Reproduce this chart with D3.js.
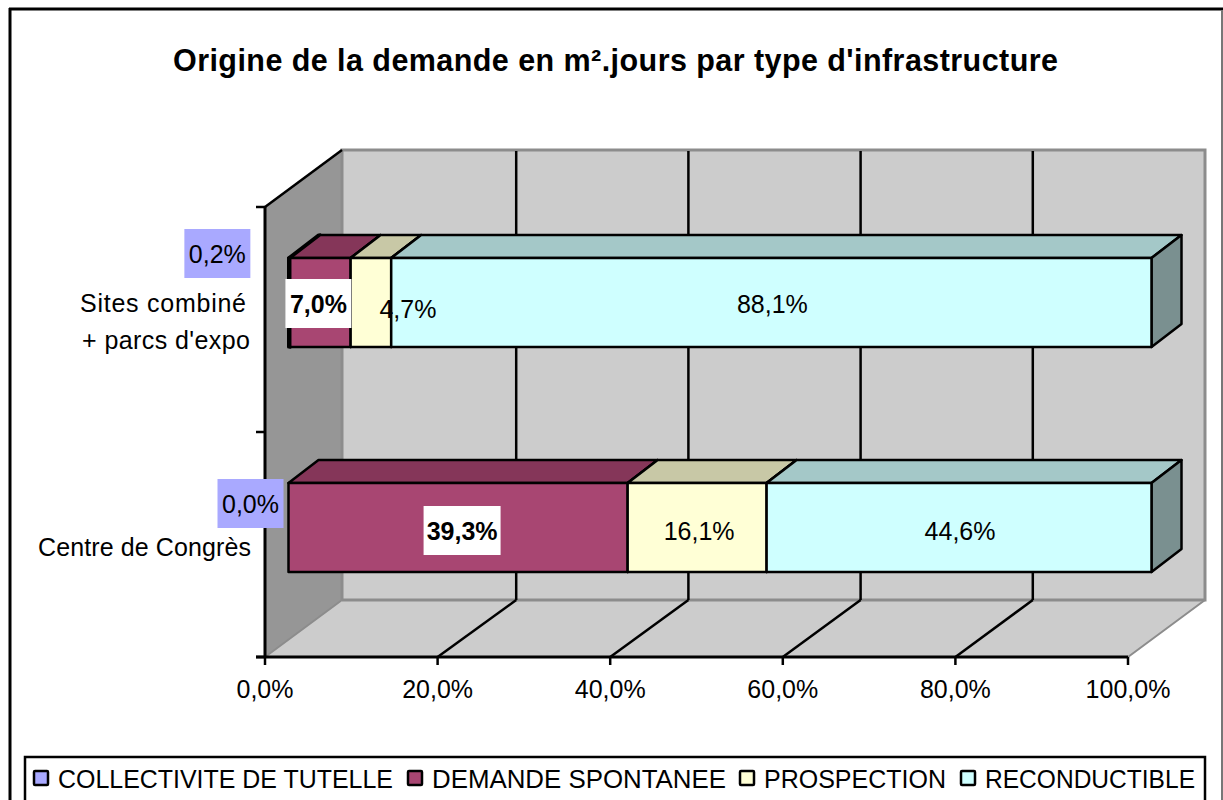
<!DOCTYPE html>
<html lang="fr">
<head>
<meta charset="utf-8">
<script src="https://cdn.jsdelivr.net/npm/d3@7"></script>
<style>
html,body{margin:0;padding:0;background:#fff;overflow:hidden}
svg{display:block}
text{font-family:"Liberation Sans",Arial,sans-serif;fill:#000}
</style>
</head>
<body>
<svg id="c" width="1223" height="800"></svg>
<script>
const titleText = "Origine de la demande en m².jours par type d'infrastructure";
const categories = ["Centre de Congrès", "Sites combiné + parcs d'expo"];
const seriesNames = ["COLLECTIVITE DE TUTELLE", "DEMANDE SPONTANEE", "PROSPECTION", "RECONDUCTIBLE"];
const collectivite = [0.0, 0.2];
const demande = [39.3, 7.0];
const prospection = [16.1, 4.7];
const reconductible = [44.6, 88.1];
const xTickValues = [0, 20, 40, 60, 80, 100];

const svg = d3.select("#c");
const fmt = v => v.toFixed(1).replace(".", ",") + "%";

// colours per series: front, top, side
const colors = [
  {f:"#a9a9ff", t:"#8484c8", s:"#6f6fa0"},
  {f:"#a84672", t:"#853659", s:"#6e2c4a"},
  {f:"#ffffd6", t:"#c8c8a6", s:"#a0a088"},
  {f:"#cfffff", t:"#a4c8c8", s:"#7a9090"}
];

// frame
svg.append("line").attr("x1",9).attr("x2",1223).attr("y1",9).attr("y2",9).attr("stroke","#000").attr("stroke-width",3);
svg.append("line").attr("x1",10).attr("x2",10).attr("y1",8).attr("y2",800).attr("stroke","#000").attr("stroke-width",3);
svg.append("line").attr("x1",1222).attr("x2",1222).attr("y1",10).attr("y2",800).attr("stroke","#777").attr("stroke-width",2);

svg.append("text").attr("x",173).attr("y",71)
  .attr("font-size",30.5).attr("font-weight","bold")
  .attr("textLength",885).attr("lengthAdjust","spacing").text(titleText);

// 3D geometry
const x = d3.scaleLinear().domain([0,100]).range([265,1128]);
const xBack = d3.scaleLinear().domain([0,100]).range([344,1205]);
const y = d3.scaleBand().domain(categories).range([657,207]);
const depthX = 77, depthY = -57;
const barDX = 23.5, barDY = -17;     // where the bar's front face sits in the depth
const barDepthX = 30, barDepthY = -23;
const barH = 89;

const poly = pts => pts.map(p => p.join(",")).join(" ");

const x0 = x(0), x1 = x(100), yB = y.range()[0], yT = y.range()[1];
// side wall
svg.append("polygon").attr("points", poly([[x0,yT],[x0+depthX,yT+depthY],[x0+depthX,yB+depthY],[x0,yB]])).attr("fill","#969696");
// back wall
svg.append("polygon").attr("points", poly([[x0+depthX,yT+depthY],[x1+depthX,yT+depthY],[x1+depthX,yB+depthY],[x0+depthX,yB+depthY]])).attr("fill","#cccccc");
// floor
svg.append("polygon").attr("points", poly([[x0,yB],[x1,yB],[x1+depthX,yB+depthY],[x0+depthX,yB+depthY]])).attr("fill","#cccccc");
// grey edges
svg.append("path").attr("fill","none").attr("stroke","#8c8c8c").attr("stroke-width",3)
  .attr("d",`M${x0+depthX},${yB+depthY}V${yT+depthY}H${x1+depthX}V${yB+depthY}H${x0+depthX}`);
svg.append("path").attr("fill","none").attr("stroke","#8c8c8c").attr("stroke-width",2)
  .attr("d",`M${x0},${yB}L${x0+depthX},${yB+depthY}M${x1},${yB}L${x1+depthX},${yB+depthY}`);

// grid
xTickValues.slice(1,-1).forEach(v => {
  svg.append("line").attr("x1",xBack(v)).attr("x2",xBack(v)).attr("y1",yT+depthY+1).attr("y2",yB+depthY)
    .attr("stroke","#000").attr("stroke-width",2.5);
  svg.append("line").attr("x1",x(v)).attr("y1",yB).attr("x2",xBack(v)).attr("y2",yB+depthY)
    .attr("stroke","#000").attr("stroke-width",2.5);
});
// top-left diagonal
svg.append("line").attr("x1",x0).attr("y1",yT).attr("x2",x0+depthX).attr("y2",yT+depthY).attr("stroke","#000").attr("stroke-width",2.5);

// axes
const xAxis = d3.axisBottom(x).tickValues(xTickValues).tickFormat(fmt).tickSize(8).tickPadding(15).offset(0);
const gx = svg.append("g").attr("transform",`translate(0,${yB})`).call(xAxis);
gx.select(".domain").attr("stroke","#000").attr("stroke-width",3).attr("d",`M${x0-9},0H${x1}`);
gx.selectAll(".tick line").attr("stroke","#000").attr("stroke-width",2.5);
gx.selectAll(".tick text").attr("font-size",25).attr("font-family",'"Liberation Sans",Arial,sans-serif').attr("fill","#000");

const yAxisScale = d3.scaleLinear().domain([0,categories.length]).range([yB,yT]);
const gy = svg.append("g").attr("transform",`translate(${x0},0)`)
  .call(d3.axisLeft(yAxisScale).ticks(categories.length).tickFormat("").tickSize(9).tickSizeOuter(0).offset(0));
gy.select(".domain").attr("stroke","#000").attr("stroke-width",3);
gy.selectAll(".tick line").attr("stroke","#000").attr("stroke-width",2.5);

// stacked bars
const table = categories.map((c,i) => ({c, a:collectivite[i], b:demande[i], p:prospection[i], r:reconductible[i]}));
const stack = d3.stack().keys(["a","b","p","r"])(table);
const labels = [];
const barLayer = svg.append("g");
stack.forEach((layer, si) => {
  layer.forEach((d, ci) => {
    const val = d[1]-d[0];
    const xa = x(d[0])+barDX, xb = x(d[1])+barDX;
    const yc = y(d.data.c)+y.bandwidth()/2+barDY;
    const t = yc-barH/2, b = yc+barH/2;
    const col = colors[si];
    labels.push({si, ci, val, mid:(xa+xb)/2, yc});
    if (val<=0) return;
    const g = barLayer.append("g").attr("stroke","#000").attr("stroke-width",si===0?3:2.5).attr("stroke-linejoin","round");
    g.append("polygon").attr("points",poly([[xa,t],[xb,t],[xb+barDepthX,t+barDepthY],[xa+barDepthX,t+barDepthY]])).attr("fill",col.t);
    g.append("polygon").attr("points",poly([[xb,t],[xb+barDepthX,t+barDepthY],[xb+barDepthX,b+barDepthY],[xb,b]])).attr("fill",si===3?col.s:col.f);
    g.append("rect").attr("x",xa).attr("y",t).attr("width",xb-xa).attr("height",b-t).attr("fill",col.f);
  });
});

// data labels
const nudge = {
  "0-1":[-72,-49], "1-1":[-2,1], "2-1":[37,6], "3-1":[1,1],
  "0-0":[-38,-24], "1-0":[4,3], "2-0":[2,3], "3-0":[1,3]
};
const fill = {0:"#a9a9ff", 1:"#fff"};
labels.forEach(l => {
  const [dx,dy] = nudge[l.si+"-"+l.ci];
  const cx = l.mid+dx, cy = l.yc+dy;
  const w = l.si===1 ? (l.val>=10?77:66) : 66;
  if (l.si in fill) {
    svg.append("rect").attr("x",cx-w/2).attr("y",cy-24.5).attr("width",w).attr("height",49).attr("fill",fill[l.si]);
  }
  svg.append("text").attr("x",cx).attr("y",cy+9).attr("text-anchor","middle")
    .attr("font-size",25).attr("font-weight",l.si===1?"bold":"normal").text(fmt(l.val));
});

// category labels
const catText = (x2, y2, w, s) => svg.append("text").attr("x",x2-w).attr("y",y2).attr("font-size",25)
  .attr("textLength",w).attr("lengthAdjust","spacing").text(s);
catText(251, 556, 213, categories[0]);
catText(246, 312, 166, "Sites combiné");
catText(250, 349, 168, "+ parcs d'expo");

// legend
svg.append("rect").attr("x",25).attr("y",757).attr("width",1180).attr("height",60).attr("fill","#fff").attr("stroke","#000").attr("stroke-width",2.5);
const legendX = d3.scaleOrdinal().domain(seriesNames).range([34,408,740,961]);
const legendW = d3.scaleOrdinal().domain(seriesNames).range([335,294,182,210]);
seriesNames.forEach((n,i) => {
  svg.append("rect").attr("x",legendX(n)).attr("y",771).attr("width",14).attr("height",14)
    .attr("fill",colors[i].f).attr("stroke","#000").attr("stroke-width",2.5).attr("rx",1);
  svg.append("text").attr("x",legendX(n)+24).attr("y",788).attr("font-size",25)
    .attr("textLength",legendW(n)).attr("lengthAdjust","spacingAndGlyphs").text(n);
});
</script>
</body>
</html>
